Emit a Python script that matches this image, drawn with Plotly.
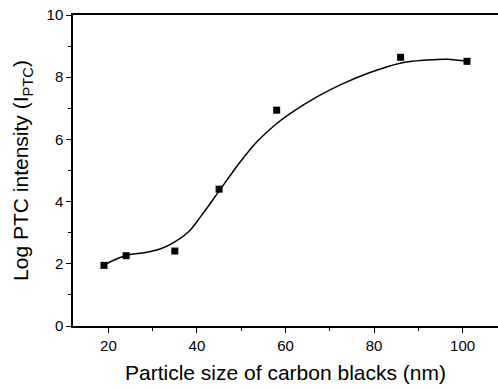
import plotly.graph_objects as go

# Measured PTC intensity vs. carbon black particle size
particle_size_nm = [19, 24, 35, 45, 58, 86, 101]
log_ptc_intensity = [1.95, 2.26, 2.41, 4.40, 6.94, 8.64, 8.51]

# Smooth fitted trend line through the data
fit_size_nm = [19, 24.2, 28.4, 32.1, 35.1, 38.1, 41.0, 45.3, 49.8, 53.6, 58.1, 61.1, 67.1, 73.1, 79.1, 85.9, 91.9, 96.5, 101]
fit_log_ptc = [1.96, 2.28, 2.36, 2.50, 2.71, 3.03, 3.55, 4.40, 5.28, 5.93, 6.52, 6.84, 7.37, 7.80, 8.15, 8.45, 8.55, 8.58, 8.51]

FONT = "Liberation Sans, Arial, Helvetica, sans-serif"

fig = go.Figure()
fig.add_trace(go.Scatter(
    x=fit_size_nm, y=fit_log_ptc, mode="lines",
    line=dict(color="black", width=1.5, shape="spline", smoothing=1.0),
    hoverinfo="skip", showlegend=False,
))
fig.add_trace(go.Scatter(
    x=particle_size_nm, y=log_ptc_intensity, mode="markers",
    marker=dict(symbol="square", size=7, color="black"),
    showlegend=False,
))

fig.update_layout(
    width=498, height=388,
    margin=dict(l=73, r=0, t=15, b=62),
    paper_bgcolor="white", plot_bgcolor="white",
    font=dict(family=FONT, color="black"),
    xaxis=dict(
        range=[12, 108], tickvals=[20, 40, 60, 80, 100],
        ticks="outside", ticklen=5, tickwidth=1.2, tickcolor="black",
        minor=dict(tickvals=[30, 50, 70, 90], ticks="outside", ticklen=3, tickcolor="black"),
        showline=True, linecolor="black", linewidth=1.5, mirror=True,
        showgrid=False, zeroline=False,
        tickfont=dict(size=15, family=FONT),
        title=dict(text="Particle size of carbon blacks (nm)", font=dict(size=21, family=FONT), standoff=13),
    ),
    yaxis=dict(
        range=[0, 10], tickvals=[0, 2, 4, 6, 8, 10],
        ticks="outside", ticklen=5, tickwidth=1.2, tickcolor="black",
        minor=dict(tickvals=[1, 3, 5, 7, 9], ticks="outside", ticklen=3, tickcolor="black"),
        showline=True, linecolor="black", linewidth=1.5,
        showgrid=False, zeroline=False,
        tickfont=dict(size=15, family=FONT),
        title=dict(text="Log PTC intensity (I<sub>PTC</sub>)", font=dict(size=21, family=FONT), standoff=12),
    ),
)

fig.write_html("out.html")
